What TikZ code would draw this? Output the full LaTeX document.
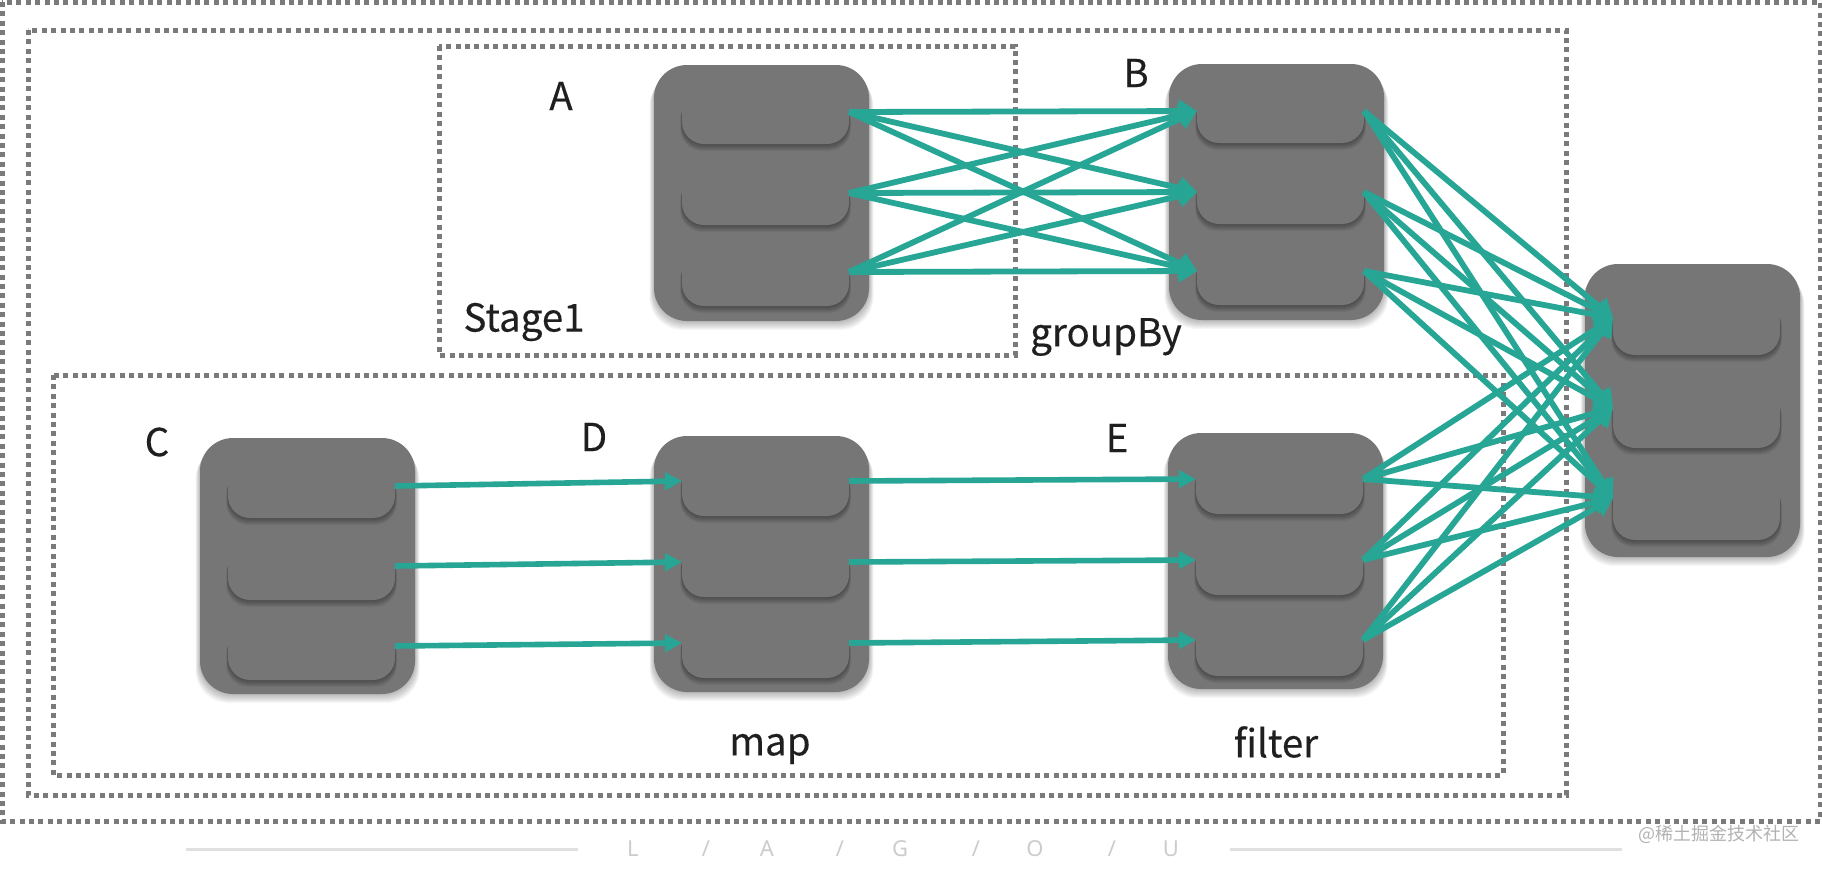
\documentclass[tikz,border=0pt]{standalone}
\usepackage{fontspec}
\setmainfont[FakeBold=0.25]{Noto Sans CJK SC}
\newfontfamily\wmfont{Noto Sans CJK SC}
\newfontfamily\lagoufont{Noto Sans}
\usetikzlibrary{arrows.meta,calc}
\definecolor{boxgray}{HTML}{767676}
\definecolor{teal}{HTML}{27A696}
\definecolor{dotgray}{HTML}{7A7A7A}
\tikzset{
  x=1pt,y=-1pt,
  store/.style={fill=boxgray,rounded corners=33pt},
  row/.style={inner sep=0pt,outer sep=0pt,minimum width=167pt},
  dotbox/.style={draw=dotgray,line width=5pt,dash pattern=on 5pt off 4.4pt},
  bigflow/.style={draw=teal,line width=5.8pt,-{Triangle[length=18pt,width=22pt]}},
  smallflow/.style={draw=teal,line width=5.6pt,-{Triangle[length=17pt,width=17pt]}},
  caption/.style={font=\fontsize{38.5}{44}\selectfont,text=black!88,inner sep=0pt},
  rule/.style={draw=black!12,line width=3pt},
  lagou/.style={font=\lagoufont\fontsize{22}{24}\selectfont,text=black!20,inner sep=0pt},
}
% shadow stack: #1 x1, #2 y1, #3 x2, #4 y2, #5 radius, #6 steps, #7 opacity, #8 spread
\newcommand{\softshadow}[8]{%
  \foreach \d in {1,...,#6}{%
    \fill[black,opacity=#7,rounded corners=#5pt]
      (#1-\d*#8,#2+\d) rectangle (#3+\d*#8,#4+\d);
  }%
}
% one row: #1 name, #2 left, #3 port y, #4 bottom
\newcommand{\strow}[4]{%
  \pgfmathsetmacro{\rowh}{2*(#4-#3)}%
  \softshadow{#2}{#3-20}{#2+167}{#4}{22}{7}{.05}{0.25}%
  \node[row,fill=boxgray,rounded corners=22pt,minimum height=\rowh pt,anchor=west] (#1) at (#2,#3) {};%
}
% store: #1 left, #2 top, #3 bottom
\newcommand{\stbody}[3]{%
  \softshadow{#1}{#2}{#1+215}{#3}{33}{9}{.03}{0.5}%
  \fill[store] (#1,#2) rectangle (#1+215,#3);%
}
\begin{document}
\begin{tikzpicture}
\useasboundingbox (0,0) rectangle (1822,868);
\fill[white] (0,0) rectangle (1822,868);

% dotted frames
\draw[dotbox] (2,2) rectangle (1820,821);
\draw[dotbox] (28,30) rectangle (1566,795);
\draw[dotbox] (439,46) rectangle (1015,355);
\draw[dotbox] (53,375) rectangle (1503,775);

% stores
\stbody{654}{65}{321}
\strow{a1}{682}{112}{144}\strow{a2}{682}{193}{225}\strow{a3}{682}{272}{306}
\stbody{1169}{64}{320}
\strow{b1}{1197}{111}{143}\strow{b2}{1197}{192}{224}\strow{b3}{1197}{271}{305}
\stbody{200}{438}{694}
\strow{c1}{228}{486}{518}\strow{c2}{228}{566}{600}\strow{c3}{228}{646}{680}
\stbody{654}{436}{692}
\strow{d1}{682}{481}{516}\strow{d2}{682}{562}{597}\strow{d3}{682}{643}{678}
\stbody{1168}{433}{689}
\strow{e1}{1196}{479}{514}\strow{e2}{1196}{560}{595}\strow{e3}{1196}{640}{676}
\stbody{1585}{264}{557}
\strow{f1}{1613}{318}{355}\strow{f2}{1613}{408}{448}\strow{f3}{1613}{498}{540}

% connectors
\foreach \s in {a1,a2,a3}\foreach \t in {b1,b2,b3}
  \draw[bigflow] (\s.east) -- (\t.west);
\foreach \s in {b1,b2,b3,e1,e2,e3}\foreach \t in {f1,f2,f3}
  \draw[bigflow] (\s.east) -- (\t.west);
\draw[smallflow] (c1.east) -- (d1.west);
\draw[smallflow] (c2.east) -- (d2.west);
\draw[smallflow] (c3.east) -- (d3.west);
\draw[smallflow] (d1.east) -- (e1.west);
\draw[smallflow] (d2.east) -- (e2.west);
\draw[smallflow] (d3.east) -- (e3.west);

% labels
\node[caption] (la) at (561,96) {A};
\node[caption] (lb) at (1136,73) {B};
\node[caption] (ls) at (524,322) {Stage1};
\node[caption] (lg) at (1106,337) {groupBy};
\node[caption] (lc) at (157,442) {C};
\node[caption] (ld) at (594,437) {D};
\node[caption] (le) at (1117,438) {E};
\node[caption] (lm) at (770,749) {map};
\node[caption] (lf) at (1276,742) {filter};

% footer
\coordinate (r1a) at (186,849);\coordinate (r1b) at (578,849);
\coordinate (r2a) at (1230,849);\coordinate (r2b) at (1622,849);
\draw[rule] (r1a) -- (r1b);
\draw[rule] (r2a) -- (r2b);
\node[lagou] (t1) at (633,849) {L};
\node[lagou] (t2) at (706,849) {/};
\node[lagou] (t3) at (767,849) {A};
\node[lagou] (t4) at (840,849) {/};
\node[lagou] (t5) at (900,849) {G};
\node[lagou] (t6) at (976,849) {/};
\node[lagou] (t7) at (1035,849) {O};
\node[lagou] (t8) at (1112,849) {/};
\node[lagou] (t9) at (1171,849) {U};
\node[inner sep=0pt,text=black!30,font=\wmfont\fontsize{18}{20}\selectfont] (wm) at (1719,834) {@稀土掘金技术社区};
\end{tikzpicture}
\end{document}
